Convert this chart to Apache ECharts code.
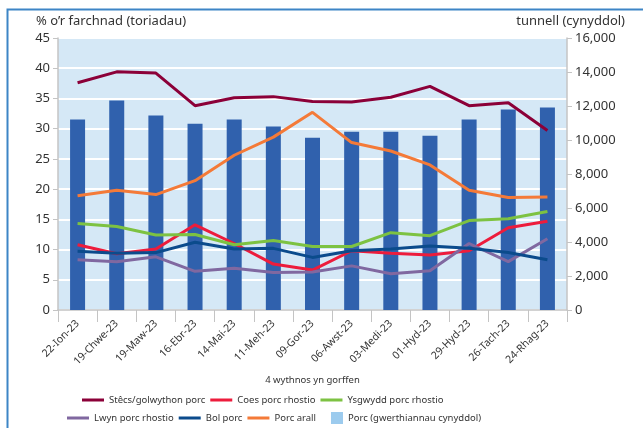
<!DOCTYPE html>
<html>
<head>
<meta charset="utf-8">
<script src="https://cdn.jsdelivr.net/npm/echarts@6/dist/echarts.min.js"></script>
<style>
  html, body { margin: 0; padding: 0; background: #fff; }
  #main { width: 643px; height: 428px; }
</style>
</head>
<body>
<div id="main"></div>
<script>
const myChart = echarts.init(document.getElementById('main'));

const weeks = ['22-Ion-23', '19-Chwe-23', '19-Maw-23', '16-Ebr-23', '14-Mai-23', '11-Meh-23',
  '09-Gor-23', '06-Awst-23', '03-Medi-23', '01-Hyd-23', '29-Hyd-23', '26-Tach-23', '24-Rhag-23'];

const stecs = [37.6, 39.4, 39.2, 33.8, 35.1, 35.3, 34.5, 34.4, 35.2, 37.0, 33.8, 34.3, 29.7];
const coes = [10.8, 9.3, 10.1, 14.1, 11.0, 7.6, 6.6, 9.8, 9.4, 9.1, 9.8, 13.6, 14.7];
const ysgwydd = [14.3, 13.8, 12.4, 12.5, 10.8, 11.5, 10.5, 10.5, 12.8, 12.3, 14.8, 15.1, 16.3];
const lwyn = [8.3, 8.0, 8.8, 6.4, 6.9, 6.2, 6.3, 7.3, 6.0, 6.5, 11.0, 8.0, 11.8];
const bol = [9.7, 9.4, 9.5, 11.2, 10.1, 10.2, 8.7, 9.8, 10.1, 10.6, 10.2, 9.5, 8.3];
const arall = [18.9, 19.8, 19.1, 21.4, 25.6, 28.6, 32.7, 27.7, 26.3, 24.0, 19.8, 18.6, 18.7];
const porcTonnes = [11200, 12330, 11440, 10960, 11200, 10790, 10130, 10490, 10490, 10250, 11200, 11790, 11910];

const txt = '#333';
const font = 'Noto Sans';

// legend icons: a thick line or a square, both inside a 22x12 box
const lineIcon = 'path://M0,0h0.01v0.01h-0.01z M0,4.5h22v3h-22z M21.99,11.99h0.01v0.01h-0.01z';
const boxIcon = 'path://M0,0h0.01v0.01h-0.01z M10,0h12v12h-12z M21.99,11.99h0.01v0.01h-0.01z';

function lineSeries(name, data, color) {
  return {
    name: name,
    type: 'line',
    data: data,
    yAxisIndex: 0,
    symbol: 'none',
    z: 3,
    lineStyle: { color: color, width: 3 },
    itemStyle: { color: color }
  };
}

const legendBase = {
  itemWidth: 22,
  itemHeight: 12,
  itemGap: 5,
  icon: lineIcon,
  textStyle: { fontSize: 9.5, color: txt, fontFamily: font }
};

const option = {
  animation: false,
  textStyle: { fontFamily: font },
  graphic: [{
    type: 'rect',
    shape: { x: 7.5, y: 9.5, width: 700, height: 500 },
    style: { fill: 'none', stroke: '#3d85c6', lineWidth: 2 },
    silent: true
  }],
  grid: {
    left: 58, right: 76, top: 38, bottom: 118,
    show: true, backgroundColor: '#d5e8f6', borderWidth: 0
  },
  legend: [
    Object.assign({}, legendBase, {
      left: 77, top: 389,
      data: ['Stêcs/golwython porc', 'Coes porc rhostio', 'Ysgwydd porc rhostio']
    }),
    Object.assign({}, legendBase, {
      left: 62, top: 407,
      data: ['Lwyn porc rhostio', 'Bol porc', 'Porc arall',
        { name: 'Porc (gwerthiannau cynyddol)', icon: boxIcon, itemStyle: { color: '#9ccbee' } }]
    })
  ],
  xAxis: {
    type: 'category',
    data: weeks,
    name: '4 wythnos yn gorffen',
    nameLocation: 'middle',
    nameGap: 65,
    nameTextStyle: { fontSize: 9.5, color: txt },
    axisLine: { lineStyle: { color: '#c4c4c4', width: 1.5 } },
    axisTick: { show: true, length: 12, lineStyle: { color: '#c4c4c4' } },
    axisLabel: { rotate: 45, fontSize: 10.5, color: txt, margin: 12 },
    splitLine: { show: false }
  },
  yAxis: [{
    type: 'value',
    min: 0, max: 45, interval: 5,
    name: '% o’r farchnad (toriadau)',
    nameTextStyle: { fontSize: 13, color: txt, align: 'left', padding: [0, 0, 2, -22] },
    nameGap: 8,
    axisLine: { show: true, lineStyle: { color: '#c4c4c4', width: 1.5 } },
    axisTick: { show: true, length: 5, lineStyle: { color: '#c4c4c4' } },
    axisLabel: { fontSize: 13, color: txt, margin: 8 },
    splitLine: { lineStyle: { color: '#ffffff', width: 2 } }
  }, {
    type: 'value',
    min: 0, max: 16000, interval: 2000,
    name: 'tunnell (cynyddol)',
    nameTextStyle: { fontSize: 13, color: txt, align: 'right', padding: [0, -58, 2, 0] },
    nameGap: 8,
    axisLine: { show: true, lineStyle: { color: '#c4c4c4', width: 1.5 } },
    axisTick: { show: true, length: 5, lineStyle: { color: '#c4c4c4' } },
    axisLabel: {
      fontSize: 13, color: txt, margin: 8,
      formatter: function (v) { return v.toLocaleString('en-US'); }
    },
    splitLine: { show: false }
  }],
  series: [
    lineSeries('Stêcs/golwython porc', stecs, '#8b0038'),
    lineSeries('Coes porc rhostio', coes, '#ed1c3c'),
    lineSeries('Ysgwydd porc rhostio', ysgwydd, '#7dc242'),
    lineSeries('Lwyn porc rhostio', lwyn, '#8068a0'),
    lineSeries('Bol porc', bol, '#0b4b8c'),
    lineSeries('Porc arall', arall, '#f47a38'),
    {
      name: 'Porc (gwerthiannau cynyddol)',
      type: 'bar',
      data: porcTonnes,
      yAxisIndex: 1,
      barWidth: 15,
      z: 2,
      itemStyle: { color: '#3061ad' }
    }
  ]
};

myChart.setOption(option);
</script>
</body>
</html>
